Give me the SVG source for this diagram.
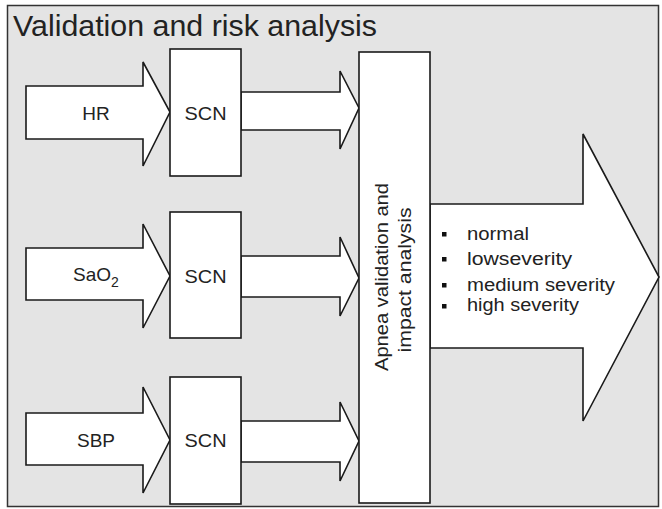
<svg xmlns="http://www.w3.org/2000/svg" width="662" height="509" viewBox="0 0 662 509">
<style>
.shape{fill:#ffffff;stroke:#1a1a1a;stroke-width:1.6;stroke-linejoin:miter}
.lbl{font-family:"Liberation Sans",Arial,sans-serif;font-size:18px;fill:#222}
.big{font-size:19px}
.bul{fill:#111}
</style>
<rect x="7.5" y="5.5" width="651" height="501" fill="#e4e4e4" stroke="#333" stroke-width="1.5"/>
<text x="13" y="36" font-family="'Liberation Sans',Arial,sans-serif" font-size="30" fill="#222" textLength="364" lengthAdjust="spacingAndGlyphs">Validation and risk analysis</text>
<g id="connectors">
<polygon class="shape" points="26,86 143,86 143,62 170,112 143,166 143,139 26,139"/>
<polygon class="shape" points="26,248 143,248 143,224 170,276 143,328 143,300 26,300"/>
<polygon class="shape" points="26,413 143,413 143,387 170,440 143,493 143,465 26,465"/>
<polygon class="shape" points="241,92 340,92 340,71 359,108 340,149 340,130 241,130"/>
<polygon class="shape" points="241,256 340,256 340,237 359,278 340,316 340,297 241,297"/>
<polygon class="shape" points="241,421 340,421 340,402 359,441 340,481 340,462 241,462"/>
<polygon class="shape" points="430,204 583,204 583,134 659,277 583,421 583,348 430,348"/>
</g>
<g id="input-labels">
<text class="lbl big" x="96" y="120" text-anchor="middle">HR</text>
<text class="lbl big" x="73" y="281">SaO<tspan font-size="14" dy="6">2</tspan></text>
<text class="lbl big" x="96" y="447" text-anchor="middle">SBP</text>
</g>
<g id="scn1"><rect class="shape" x="170" y="49" width="71" height="127"/><text class="lbl big" x="205.5" y="120" text-anchor="middle" textLength="42" lengthAdjust="spacingAndGlyphs">SCN</text></g>
<g id="scn2"><rect class="shape" x="170" y="212" width="71" height="126"/><text class="lbl big" x="205.5" y="283" text-anchor="middle" textLength="42" lengthAdjust="spacingAndGlyphs">SCN</text></g>
<g id="scn3"><rect class="shape" x="170" y="377" width="71" height="127"/><text class="lbl big" x="205.5" y="447" text-anchor="middle" textLength="42" lengthAdjust="spacingAndGlyphs">SCN</text></g>
<g id="apnea">
<rect class="shape" x="359" y="52" width="71" height="451"/>
<text class="lbl" transform="translate(388,277) rotate(-90)" text-anchor="middle" textLength="188" lengthAdjust="spacingAndGlyphs">Apnea validation and</text>
<text class="lbl" transform="translate(411,280) rotate(-90)" text-anchor="middle" textLength="145" lengthAdjust="spacingAndGlyphs">impact analysis</text>
</g>
<g id="outcomes">
<rect class="bul" x="442" y="232" width="4.5" height="4.5"/>
<rect class="bul" x="442" y="257" width="4.5" height="4.5"/>
<rect class="bul" x="442" y="283" width="4.5" height="4.5"/>
<rect class="bul" x="442" y="304" width="4.5" height="4.5"/>
<text class="lbl" x="467" y="240" textLength="62" lengthAdjust="spacingAndGlyphs">normal</text>
<text class="lbl" x="467" y="265" textLength="105" lengthAdjust="spacingAndGlyphs">lowseverity</text>
<text class="lbl" x="467" y="291" textLength="148" lengthAdjust="spacingAndGlyphs">medium  severity</text>
<text class="lbl" x="467" y="311" textLength="112" lengthAdjust="spacingAndGlyphs">high severity</text>
</g>
</svg>
